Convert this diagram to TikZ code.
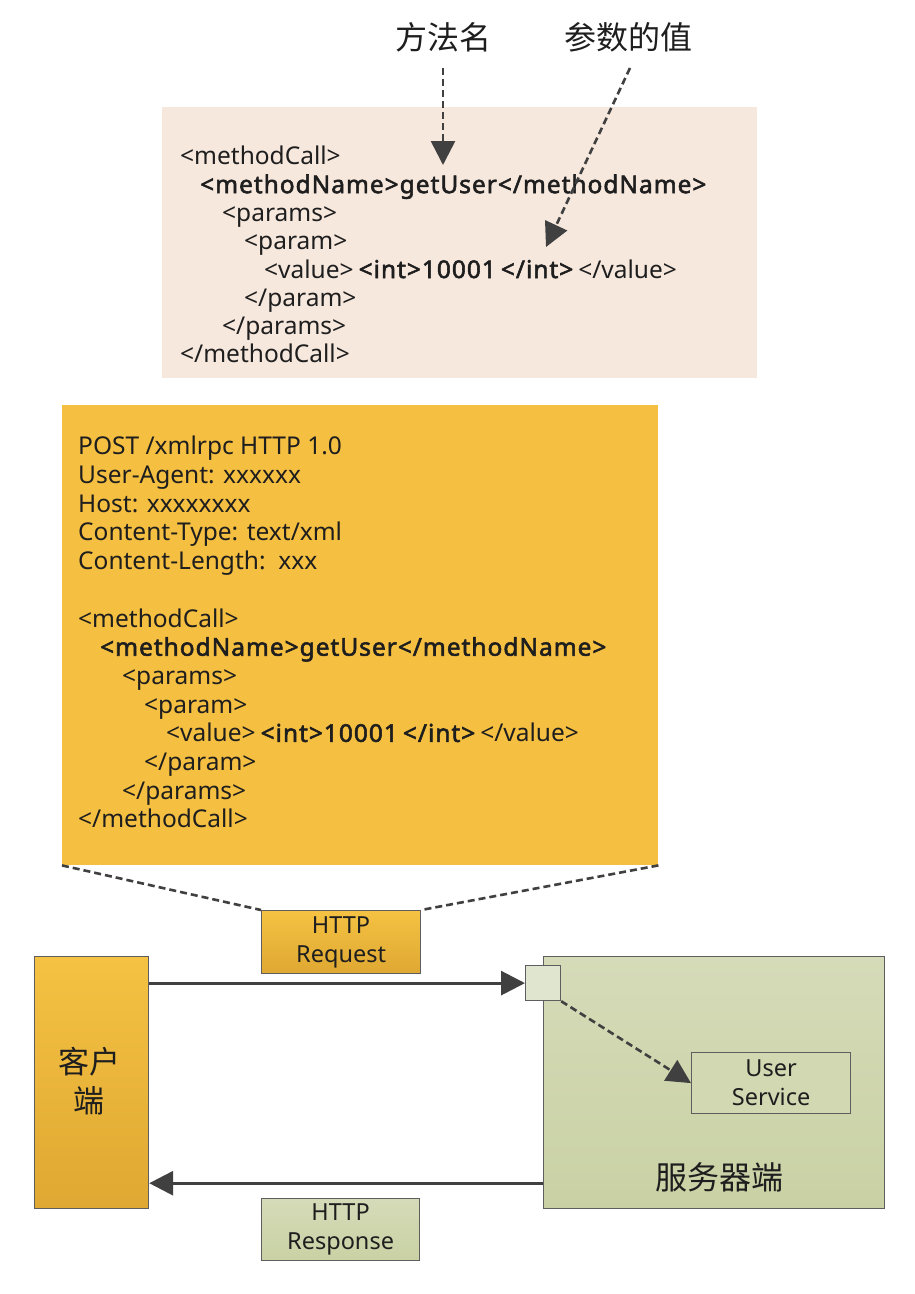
\documentclass[tikz,border=0pt]{standalone}
\usepackage{fontspec}
\setmainfont{Noto Sans}[AutoFakeBold=2.2]
\newfontfamily\cjk{Noto Sans CJK SC}
\usetikzlibrary{arrows.meta}
\definecolor{ink}{HTML}{1E1E1E}
\definecolor{linegray}{HTML}{404040}
\definecolor{edgegray}{HTML}{5E5E5E}
\definecolor{pinkbg}{HTML}{F7E8DE}
\definecolor{orangebg}{HTML}{F5BF41}
\definecolor{orangetop}{HTML}{F5C243}
\definecolor{orangebot}{HTML}{DFA832}
\definecolor{greentop}{HTML}{D5DBB8}
\definecolor{greenbot}{HTML}{C9D1A4}
\definecolor{greenlight}{HTML}{E0E5D0}
\newcommand{\ind}[1]{\hspace*{#1pt}}
% bold XML fragments, slightly tracked out
\newcommand{\hl}[1]{{\bfseries\addfontfeature{LetterSpace=4}#1}}
\newcommand{\gap}{\hspace{5pt}}
\begin{document}
\begin{tikzpicture}[x=1pt,y=-1pt,
  codeblock/.style={align=left, anchor=north west, inner sep=0pt, text=ink},
  orangebox/.style={draw=edgegray, line width=1.2pt, top color=orangetop, bottom color=orangebot, text=ink},
  greenbox/.style={draw=edgegray, line width=1.2pt, top color=greentop, bottom color=greenbot, text=ink},
  tag/.style={font=\fontsize{23.5}{29}\selectfont, align=center, inner sep=0pt, text=ink},
  dashline/.style={draw=linegray, line width=2.6pt, dash pattern=on 7pt off 4pt},
  solidarrow/.style={draw=linegray, line width=3pt, -{Triangle[length=24pt,width=24pt]}},
  dasharrow/.style={dashline, -{Triangle[length=24pt,width=24pt]}},
  cjklabel/.style={font=\cjk\fontsize{32}{36}\selectfont, text=ink, inner sep=0pt}
]
\useasboundingbox (0,0) rectangle (914,1294);

% labels above the XML body
\node[cjklabel] (lname) at (443,37) {方法名};
\node[cjklabel] (lvalue) at (628,37) {参数的值};

% XML-RPC body
\node[fill=pinkbg, minimum width=595, minimum height=271, anchor=north west, inner sep=0pt] (xml) at (162,107) {};
\node[codeblock, font=\fontsize{24.5}{28.3}\selectfont] (xmltext) at (180,146) {%
<methodCall>\\
\ind{20}\hl{<methodName>getUser</methodName>}\\
\ind{42}<params>\\
\ind{64}<param>\\
\ind{84}<value>\gap\hl{<int>10001}\gap\hl{</int>}\gap</value>\\
\ind{64}</param>\\
\ind{42}</params>\\
</methodCall>};

\coordinate (lnameS) at (443,68);
\coordinate (lnameT) at (443,165);
\coordinate (lvalueS) at (630,68);
\coordinate (lvalueT) at (546,247);
\draw[dasharrow] (lnameS) -- (lnameT);
\draw[dasharrow] (lvalueS) -- (lvalueT);

% full HTTP request
\node[fill=orangebg, minimum width=596, minimum height=460, anchor=north west, inner sep=0pt] (req) at (62,405) {};
\node[codeblock, font=\fontsize{24.5}{28.7}\selectfont] (reqtext) at (78,436) {%
POST /xmlrpc HTTP 1.0\\
User-Agent: xxxxxx\\
Host: xxxxxxxx\\
Content-Type: text/xml\\
Content-Length:\ \ xxx\\
\\
<methodCall>\\
\ind{22}\hl{<methodName>getUser</methodName>}\\
\ind{44}<params>\\
\ind{66}<param>\\
\ind{88}<value>\gap\hl{<int>10001}\gap\hl{</int>}\gap</value>\\
\ind{66}</param>\\
\ind{44}</params>\\
</methodCall>};

% request tag
\node[orangebox, minimum width=159, minimum height=63, anchor=north west] (reqtag) at (261,910) {};
\node[tag] (reqtagtext) at (reqtag.center) {HTTP\\Request};
\draw[dashline] (req.south west) -- (reqtag.north west);
\draw[dashline] (req.south east) -- (reqtag.north east);

% client
\node[orangebox, minimum width=114, minimum height=252, anchor=north west] (client) at (34,956) {};
\node[font=\cjk\fontsize{31}{39}\selectfont, align=center, text=ink, inner sep=0pt] (clienttext) at (89,1081) {客户\\端};

% server
\node[greenbox, minimum width=341, minimum height=252, anchor=north west] (server) at (543,956) {};
\node[font=\cjk\fontsize{32}{36}\selectfont, text=ink, inner sep=0pt] (serverlabel) at (719,1177) {服务器端};
\node[draw=edgegray, line width=1.2pt, fill=greenlight, minimum width=35, minimum height=35, anchor=north west, inner sep=0pt] (port) at (525,965) {};
\node[draw=edgegray, line width=1.2pt, fill=greentop!70!greenbot, minimum width=159, minimum height=61, anchor=north west, inner sep=0pt] (usvc) at (691,1052) {};
\node[tag] (usvctext) at (usvc.center) {User\\Service};

% request / response flows
\draw[solidarrow] (client.east |- port.west) -- (port.west);
\draw[dasharrow] (port.south east) -- (usvc.west);
\coordinate (respS) at ([yshift=26pt]server.south west);
\draw[solidarrow] (respS) -- (client.east |- respS);

% response tag
\node[greenbox, minimum width=158, minimum height=62, anchor=north west] (resptag) at (261,1198) {};
\node[tag] (resptagtext) at (resptag.center) {HTTP\\Response};
\end{tikzpicture}
\end{document}
